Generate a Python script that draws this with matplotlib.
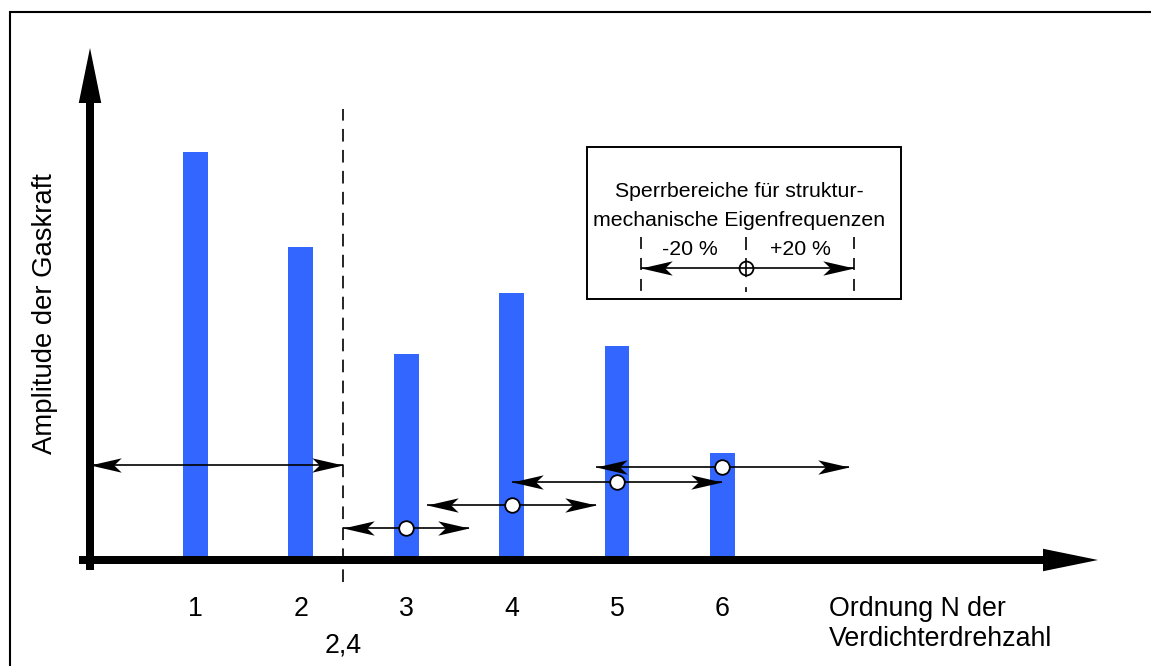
import matplotlib
matplotlib.use("Agg")
import matplotlib.pyplot as plt
from matplotlib.path import Path
from matplotlib.patches import FancyArrowPatch, Rectangle

# ---------------- data ----------------
orders = [1, 2, 3, 4, 5, 6]
amplitudes = [4.08, 3.13, 2.06, 2.67, 2.14, 1.07]
tick_labels = ["1", "2", "3", "4", "5", "6"]

limit_order = 2.4
limit_label = "2,4"

# forbidden band below the limit order
base_band_low = 0.0
base_band_high = 2.4
base_band_level = 0.95

# ±20 % bands around orders 3..6
band_centers = [3, 4, 5, 6]
band_low = [2.4, 3.2, 4.0, 4.8]
band_high = [3.6, 4.8, 6.0, 7.2]
band_levels = [0.32, 0.55, 0.78, 0.93]

x_label_lines = ["Ordnung N der", "Verdichterdrehzahl"]
y_label = "Amplitude der Gaskraft"
legend_lines = ["Sperrbereiche für struktur-", "mechanische Eigenfrequenzen"]
legend_minus = "-20 %"
legend_plus = "+20 %"

# ---------------- layout helpers (pixel -> data) ----------------
W, H = 1151, 666
X0, XS = 90.0, 105.4   # pixel of N=0, pixels per order
Y0, YS = 560.0, 100.0  # pixel of amplitude 0, pixels per unit


def px(p):
    return (p - X0) / XS


def py(p):
    return (Y0 - p) / YS


plt.rcParams["font.family"] = ["Liberation Sans", "DejaVu Sans"]
plt.rcParams["lines.scale_dashes"] = False

fig = plt.figure(figsize=(W / 100, H / 100), dpi=100)
ax = fig.add_axes([0, 0, 1, 1])
ax.set_xlim(px(0), px(W))
ax.set_ylim(py(H), py(0))
ax.axis("off")

BLUE = "#3366ff"
FS = 19.3
FS_Y = 19.8
FS_LEG = 15.3

# outer frame (left and top visible)
fig.add_artist(Rectangle((10.3 / W, -0.2), 1.5, (H - 11.8) / H + 0.2,
                         transform=fig.transFigure, fill=False,
                         lw=1.5, ec="black"))

# bars
ax.bar(orders, amplitudes, width=0.235, color=BLUE, zorder=2)

# axes arrows
arrow_style = "simple,head_length=39.6,head_width=16.2,tail_width=5.76"
ax.add_patch(FancyArrowPatch((0, py(570)), (0, py(48)), arrowstyle=arrow_style,
                             mutation_scale=1, shrinkA=0, shrinkB=0,
                             color="black", lw=0, zorder=6))
ax.add_patch(FancyArrowPatch((px(79), 0), (px(1098), 0), arrowstyle=arrow_style,
                             mutation_scale=1, shrinkA=0, shrinkB=0,
                             color="black", lw=0, zorder=6))

# thin range arrows with stealth heads
right_head = Path([(0, 0), (-1, 0.23), (-0.76, 0), (-1, -0.23), (0, 0)],
                  [Path.MOVETO, Path.LINETO, Path.LINETO, Path.LINETO, Path.CLOSEPOLY])
left_head = Path([(0, 0), (1, 0.23), (0.76, 0), (1, -0.23), (0, 0)],
                 [Path.MOVETO, Path.LINETO, Path.LINETO, Path.LINETO, Path.CLOSEPOLY])
HEAD_MS = 45


def range_arrow(x0, x1, y, z=3):
    ax.plot([x0, x1], [y, y], color="black", lw=1.2, zorder=z,
            solid_capstyle="butt")
    ax.plot([x1], [y], marker=right_head, ms=HEAD_MS, color="black", mew=0, zorder=z)
    ax.plot([x0], [y], marker=left_head, ms=HEAD_MS, color="black", mew=0, zorder=z)


range_arrow(base_band_low, base_band_high, base_band_level)
for lo, hi, lev in zip(band_low, band_high, band_levels):
    range_arrow(lo, hi, lev)
ax.plot(band_centers, band_levels, "o", ms=10.5, mfc="white", mec="black",
        mew=1.3, ls="none", zorder=4)

# limit dashed line
ax.plot([limit_order, limit_order], [py(582), py(109)], color="black", lw=1.2,
        ls=(0, (9.1, 6.0)), zorder=3)

# tick labels
for o, lab in zip(orders, tick_labels):
    ax.text(o, py(616), lab, ha="center", va="baseline", fontsize=FS)
ax.text(limit_order, py(652), limit_label, ha="center", va="baseline", fontsize=FS)

# axis labels
ax.text(px(829), py(616), x_label_lines[0], ha="left", va="baseline", fontsize=FS)
ax.text(px(829), py(646), x_label_lines[1], ha="left", va="baseline", fontsize=FS)
ax.text(px(45.5), py(314), y_label, rotation=90, ha="center", va="center",
        fontsize=FS_Y)

# legend box
ax.add_patch(Rectangle((px(587), py(299)), px(901) - px(587), py(147) - py(299),
                       fill=False, ec="black", lw=1.4, zorder=5))
ax.text(px(739.5), py(197), legend_lines[0], ha="center", va="baseline",
        fontsize=FS_LEG)
ax.text(px(739.5), py(225.5), legend_lines[1], ha="center", va="baseline",
        fontsize=FS_LEG)
ax.text(px(690), py(255), legend_minus, ha="center", va="baseline", fontsize=FS_LEG)
ax.text(px(800), py(255), legend_plus, ha="center", va="baseline", fontsize=FS_LEG)
for xp in (641, 854):
    ax.plot([px(xp), px(xp)], [py(237), py(292)], color="black", lw=1.2,
            ls=(0, (8.6, 6.5)), zorder=5)
ax.plot([px(746), px(746)], [py(237), py(292)], color="black", lw=1.2,
        ls=(0, (9.4, 5.8, 13.7, 7.2, 3.6, 3.6)), zorder=5)
range_arrow(px(641), px(854), py(268), z=5)
ax.plot([px(746)], [py(268)], "o", ms=10, mfc="none", mec="black", mew=1.3, zorder=6)

fig.savefig("out.png", dpi=100)
